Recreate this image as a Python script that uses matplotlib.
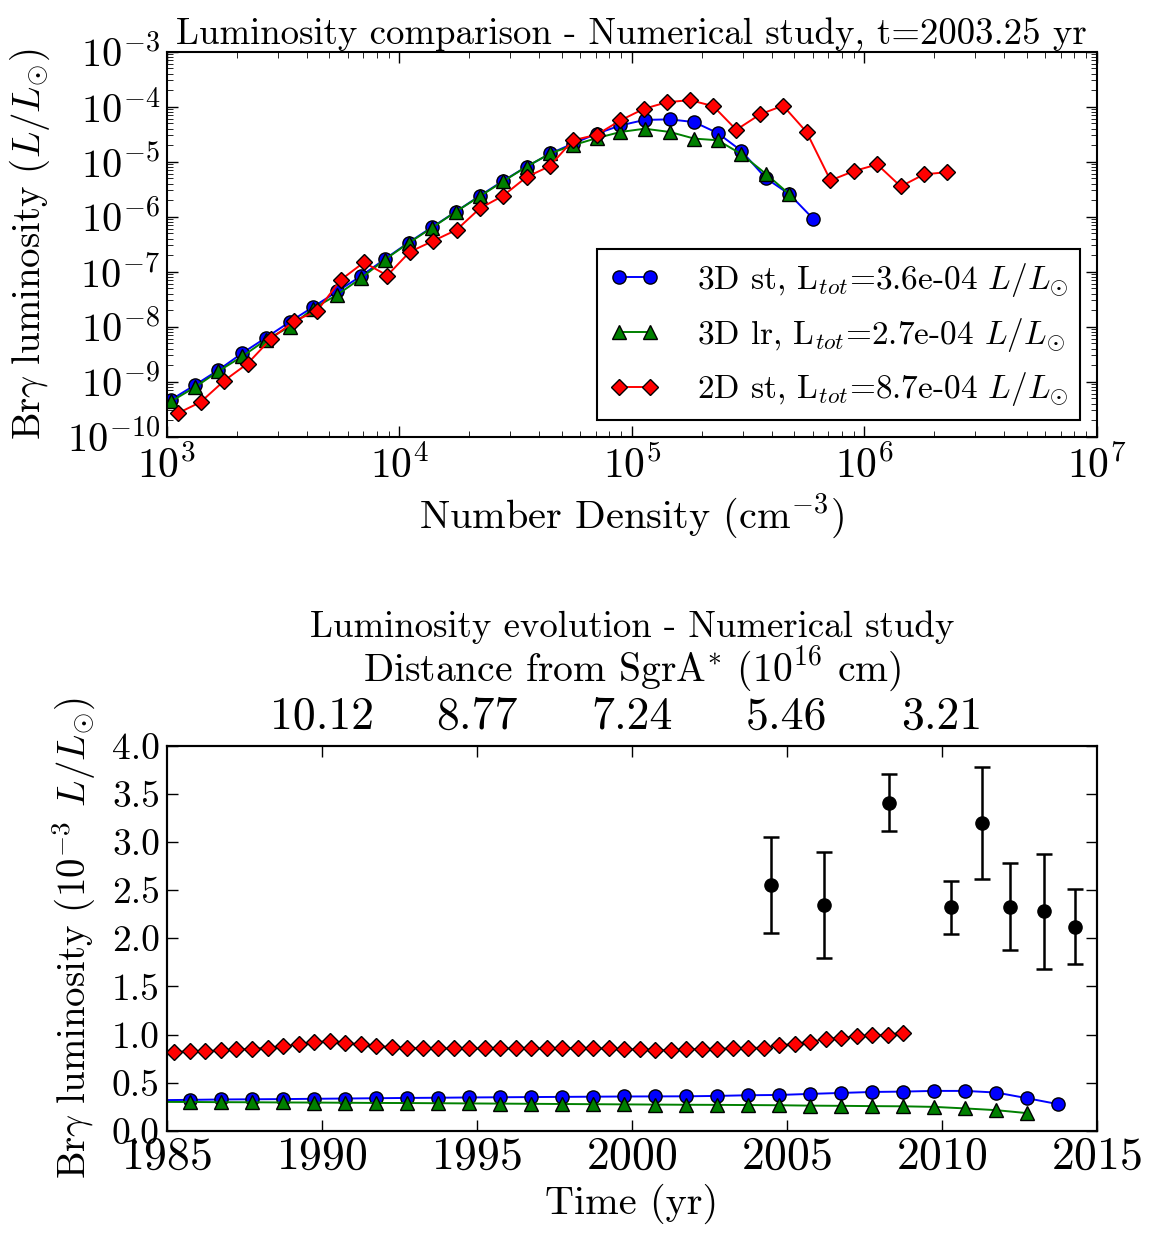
"""
Br-gamma luminosity: comparison vs number density (top) and time evolution (bottom).
Writes out.png.
"""
import numpy as np
import matplotlib
matplotlib.use("Agg")
import matplotlib.pyplot as plt
from matplotlib.ticker import LogLocator, FormatStrFormatter, NullFormatter

# ---- top panel: luminosity per density bin (log10 values) ----
LOGN_3D = [3.018, 3.122, 3.222, 3.325, 3.427, 3.530, 3.630, 3.733, 3.835, 3.938,
           4.040, 4.141, 4.243, 4.346, 4.446, 4.547, 4.650, 4.747, 4.850, 4.951,
           5.055, 5.164, 5.268, 5.369, 5.470, 5.576, 5.677, 5.780]
LOGL_3D_ST = [-9.33, -9.06, -8.79, -8.48, -8.20, -7.91, -7.64, -7.36, -7.08, -6.77,
              -6.47, -6.19, -5.91, -5.62, -5.35, -5.09, -4.85, -4.67, -4.49, -4.34,
              -4.24, -4.23, -4.28, -4.48, -4.80, -5.30, -5.59, -6.04]
LOGL_3D_LR = [-9.36, -9.10, -8.81, -8.54, -8.24, -8.00, -7.67, -7.42, -7.12, -6.78,
              -6.48, -6.20, -5.91, -5.63, -5.36, -5.09, -4.85, -4.70, -4.57, -4.46,
              -4.40, -4.46, -4.58, -4.61, -4.86, -5.22, -5.59]
LOGN_2D = [3.050, 3.146, 3.248, 3.348, 3.448, 3.548, 3.647, 3.748, 3.848, 3.948,
           4.045, 4.146, 4.246, 4.346, 4.446, 4.547, 4.647, 4.747, 4.849, 4.950,
           5.051, 5.149, 5.250, 5.350, 5.449, 5.551, 5.650, 5.751, 5.854, 5.955,
           6.055, 6.156, 6.256, 6.357]
LOGL_2D_ST = [-9.57, -9.37, -8.98, -8.67, -8.22, -7.90, -7.71, -7.15, -6.83, -7.07,
              -6.64, -6.44, -6.24, -5.85, -5.62, -5.28, -5.08, -4.61, -4.51, -4.25,
              -4.04, -3.92, -3.88, -3.99, -4.42, -4.14, -3.98, -4.46, -5.34, -5.17,
              -5.05, -5.45, -5.23, -5.19]
LABELS_TOP = [r"3D st, L$_{tot}$=3.6e-04 $L/L_{\odot}$",
              r"3D lr, L$_{tot}$=2.7e-04 $L/L_{\odot}$",
              r"2D st, L$_{tot}$=8.7e-04 $L/L_{\odot}$"]

# ---- bottom panel: luminosity vs time (1e-3 Lsun) ----
T_2D = [1985.25, 1985.75, 1986.25, 1986.75, 1987.25, 1987.75, 1988.25, 1988.75,
        1989.25, 1989.75, 1990.25, 1990.75, 1991.25, 1991.75, 1992.25, 1992.75,
        1993.25, 1993.75, 1994.25, 1994.75, 1995.25, 1995.75, 1996.25, 1996.75,
        1997.25, 1997.75, 1998.25, 1998.75, 1999.25, 1999.75, 2000.25, 2000.75,
        2001.25, 2001.75, 2002.25, 2002.75, 2003.25, 2003.75, 2004.25, 2004.75,
        2005.25, 2005.75, 2006.25, 2006.75, 2007.25, 2007.75, 2008.25, 2008.75]
L_2D = [0.817, 0.828, 0.828, 0.834, 0.845, 0.852, 0.862, 0.879, 0.897, 0.921,
        0.931, 0.914, 0.897, 0.879, 0.869, 0.862, 0.859, 0.855, 0.855, 0.855,
        0.855, 0.855, 0.855, 0.855, 0.855, 0.859, 0.859, 0.855, 0.855, 0.848,
        0.845, 0.841, 0.838, 0.845, 0.852, 0.852, 0.855, 0.862, 0.862, 0.886,
        0.903, 0.924, 0.955, 0.966, 0.983, 0.990, 1.000, 1.017]
T_3D = [1984.75, 1985.75, 1986.75, 1987.75, 1988.75, 1989.75, 1990.75, 1991.75,
        1992.75, 1993.75, 1994.75, 1995.75, 1996.75, 1997.75, 1998.75, 1999.75,
        2000.75, 2001.75, 2002.75, 2003.75, 2004.75, 2005.75, 2006.75, 2007.75,
        2008.75, 2009.75, 2010.75, 2011.75, 2012.75, 2013.75]
L_3D_ST = [0.318, 0.321, 0.325, 0.327, 0.329, 0.332, 0.335, 0.338, 0.341, 0.343,
           0.346, 0.348, 0.350, 0.352, 0.354, 0.356, 0.357, 0.358, 0.362, 0.369,
           0.372, 0.383, 0.393, 0.403, 0.407, 0.414, 0.414, 0.397, 0.338, 0.276]
L_3D_LR = [0.300, 0.299, 0.297, 0.296, 0.294, 0.293, 0.291, 0.289, 0.288, 0.286,
           0.284, 0.282, 0.280, 0.278, 0.276, 0.274, 0.272, 0.270, 0.269, 0.267,
           0.265, 0.261, 0.259, 0.256, 0.254, 0.248, 0.232, 0.214, 0.183]
T_OBS = [2004.5, 2006.2, 2008.3, 2010.3, 2011.3, 2012.2, 2013.3, 2014.3]
L_OBS = [2.55, 2.35, 3.41, 2.32, 3.20, 2.33, 2.28, 2.12]
L_OBS_ERR = [0.50, 0.55, 0.30, 0.28, 0.58, 0.45, 0.60, 0.39]
DIST_TICKS = [1990, 1995, 2000, 2005, 2010]
DIST_LABELS = ["10.12", "8.77", "7.24", "5.46", "3.21"]

plt.rcParams.update({
    "font.family": "serif",
    "font.serif": ["cmr10"],
    "mathtext.fontset": "cm",
    "axes.unicode_minus": False,
    "axes.formatter.use_mathtext": True,
    "axes.linewidth": 1.5,
    "xtick.direction": "in",
    "ytick.direction": "in",
    "xtick.top": True,
    "ytick.right": True,
    "xtick.major.size": 8,
    "ytick.major.size": 8,
    "xtick.minor.size": 4,
    "ytick.minor.size": 4,
    "xtick.major.width": 1.0,
    "ytick.major.width": 1.0,
})

fig = plt.figure(figsize=(11.61, 12.43), dpi=100)
ax_top = fig.add_axes([0.1436, 0.6487, 0.8013, 0.3097])
ax_bot = fig.add_axes([0.1436, 0.0903, 0.8013, 0.3097])

mk = dict(markeredgecolor="k", markeredgewidth=1.0, linewidth=1.4)

# top panel
ax_top.plot(10 ** np.array(LOGN_3D), 10 ** np.array(LOGL_3D_ST), "b-o",
            markersize=9.5, label=LABELS_TOP[0], **mk)
ax_top.plot(10 ** np.array(LOGN_3D[:len(LOGL_3D_LR)]), 10 ** np.array(LOGL_3D_LR), "g-^",
            markersize=9.5, label=LABELS_TOP[1], **mk)
ax_top.plot(10 ** np.array(LOGN_2D), 10 ** np.array(LOGL_2D_ST), "r-D",
            markersize=8.5, label=LABELS_TOP[2], **mk)
ax_top.set_xscale("log")
ax_top.set_yscale("log")
ax_top.set_xlim(1e3, 1e7)
ax_top.set_ylim(1e-10, 1e-3)
ax_top.yaxis.set_major_locator(LogLocator(base=10, numticks=20))
ax_top.yaxis.set_minor_locator(LogLocator(base=10, subs=np.arange(2, 10), numticks=20))
ax_top.yaxis.set_minor_formatter(NullFormatter())
ax_top.tick_params(axis="x", which="major", labelsize=30, pad=6)
ax_top.tick_params(axis="y", which="major", labelsize=29, pad=5)
ax_top.set_xlabel(r"Number Density (cm$^{-3}$)", fontsize=29)
ax_top.set_ylabel(r"Br$\gamma$ luminosity ($L/L_{\odot}$)", fontsize=28)
ax_top.yaxis.set_label_coords(-0.123, 0.5)
ax_top.set_title("Luminosity comparison - Numerical study, t=2003.25 yr", fontsize=26.5, pad=5)
leg = ax_top.legend(loc="lower right", bbox_to_anchor=(0.982, 0.043), borderaxespad=0,
                    fontsize=24, numpoints=2, handlelength=1.55, handletextpad=1.1,
                    borderpad=0.35, labelspacing=0.5, fancybox=False, framealpha=1)
leg.get_frame().set_edgecolor("k")
leg.get_frame().set_linewidth(1.5)

# bottom panel
ax_bot.plot(T_2D, L_2D, "r-D", markersize=8.5, **mk)
ax_bot.plot(T_3D, L_3D_ST, "b-o", markersize=9.5, **mk)
ax_bot.plot(T_3D[:len(L_3D_LR)], L_3D_LR, "g-^", markersize=9.5, **mk)
ax_bot.errorbar(T_OBS, L_OBS, yerr=L_OBS_ERR, fmt="ko", markersize=9.5,
                elinewidth=1.8, capsize=6, capthick=1.8)
ax_bot.set_xlim(1985, 2015)
ax_bot.set_ylim(0, 4)
ax_bot.set_xticks(np.arange(1985, 2016, 5))
ax_bot.set_yticks(np.arange(0, 4.01, 0.5))
ax_bot.yaxis.set_major_formatter(FormatStrFormatter("%.1f"))
ax_bot.tick_params(axis="x", labelsize=33, pad=4)
ax_bot.tick_params(axis="y", labelsize=27, pad=5)
ax_bot.set_xlabel("Time (yr)", fontsize=29)
ax_bot.set_ylabel(r"Br$\gamma$ luminosity ($10^{-3}$ $L/L_{\odot}$)", fontsize=28)
ax_bot.yaxis.set_label_coords(-0.075, 0.5)

ax_dist = ax_bot.twiny()
ax_dist.set_xlim(ax_bot.get_xlim())
ax_dist.set_xticks(DIST_TICKS)
ax_dist.set_xticklabels(DIST_LABELS)
ax_dist.tick_params(axis="x", labelsize=33, pad=6)
ax_dist.set_xlabel(r"Distance from SgrA$^{*}$ ($10^{16}$ cm)", fontsize=28.5, labelpad=11)
ax_dist.set_title("Luminosity evolution - Numerical study", fontsize=26.5, pad=4)

fig.savefig("out.png", dpi=100)
